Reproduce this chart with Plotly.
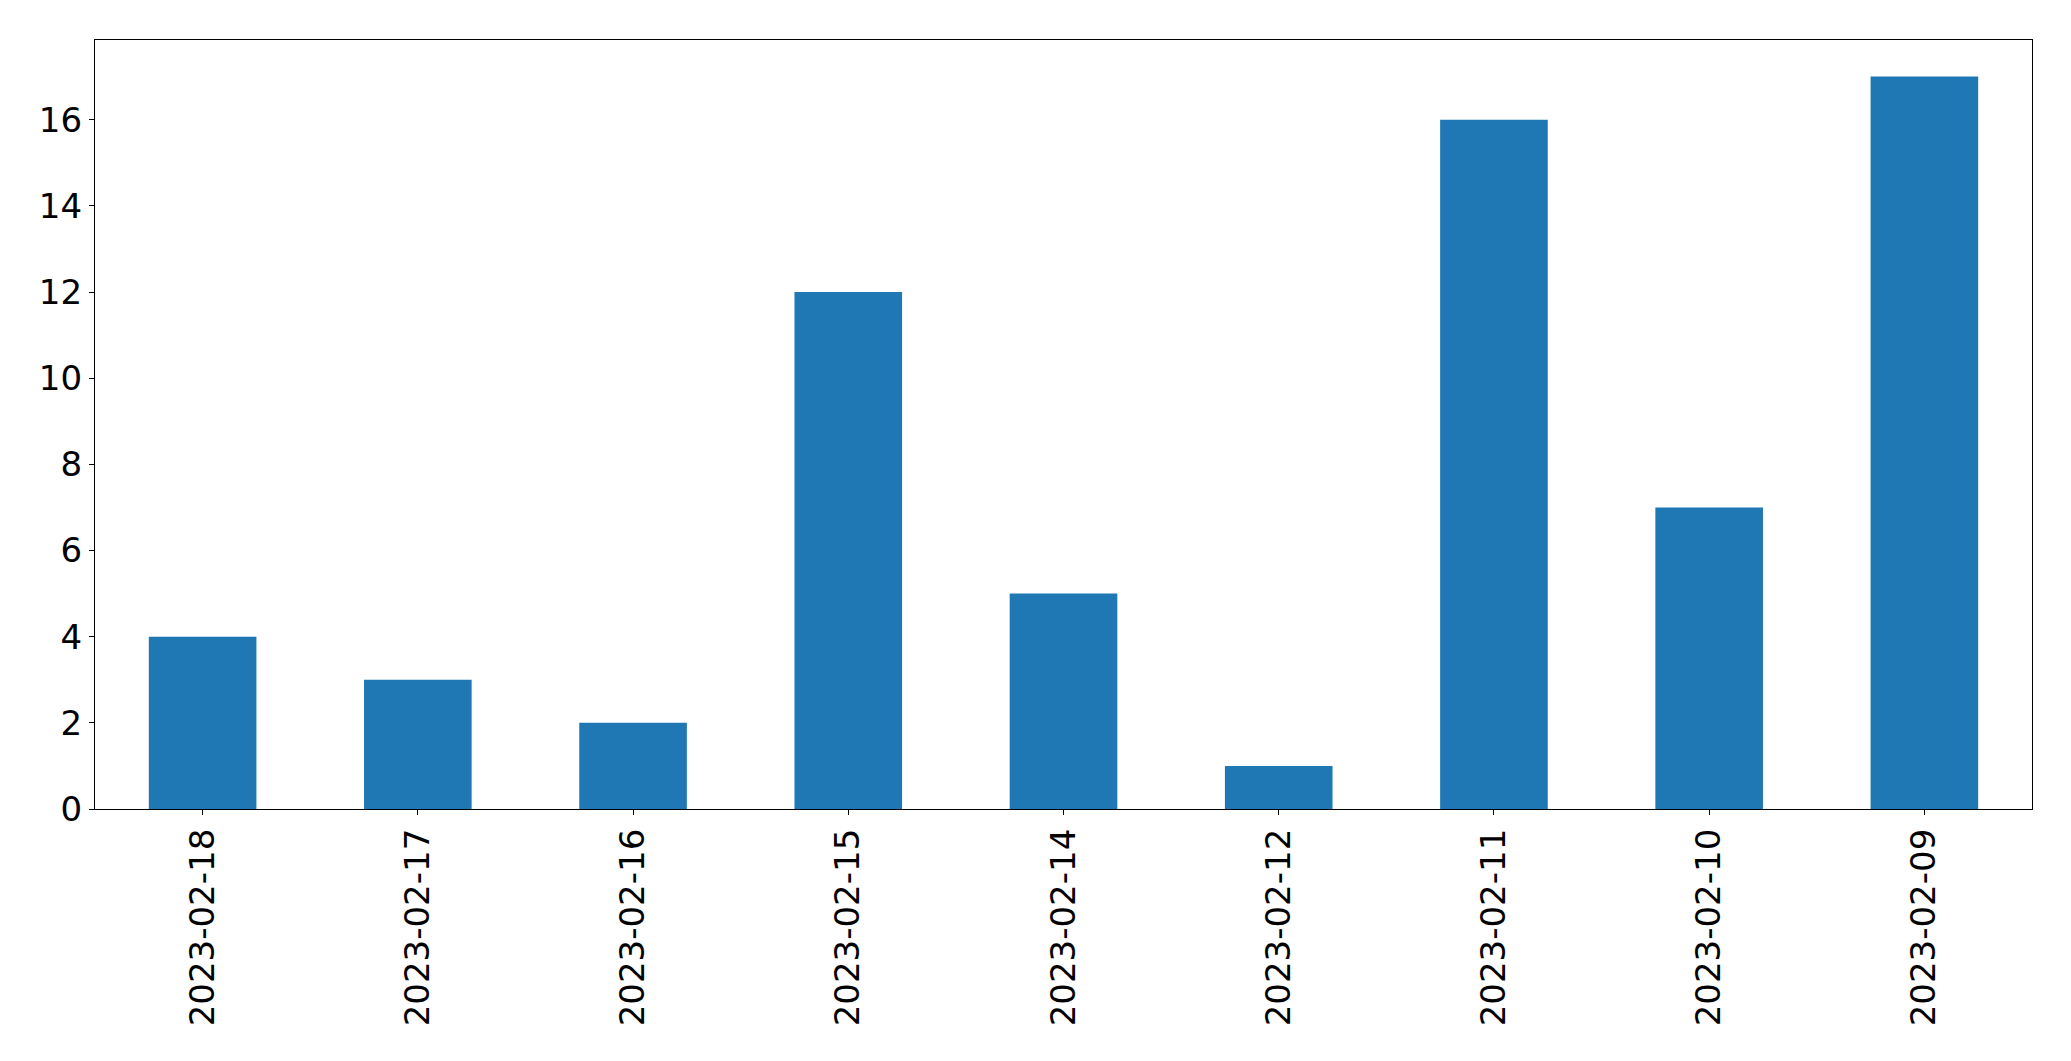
import plotly.graph_objects as go

categories = ["2023-02-18", "2023-02-17", "2023-02-16", "2023-02-15", "2023-02-14",
              "2023-02-12", "2023-02-11", "2023-02-10", "2023-02-09"]
values = [4, 3, 2, 12, 5, 1, 16, 7, 17]
y_ticks = [0, 2, 4, 6, 8, 10, 12, 14, 16]

fig = go.Figure(go.Bar(x=categories, y=values, marker=dict(color="#1f77b4", line=dict(width=0)), width=0.5))

fig.update_layout(
    width=2071, height=1061,
    margin=dict(l=86.5, r=47, t=31.5, b=260, autoexpand=False),
    paper_bgcolor="white", plot_bgcolor="white",
    font=dict(family="DejaVu Sans", size=34, color="black"),
    showlegend=False,
)
fig.update_xaxes(
    type="category", range=[-0.5, 8.5], automargin=False,
    showline=True, linecolor="black", linewidth=1.3, mirror=True,
    ticks="outside", ticklen=5, tickwidth=1.3, tickcolor="black",
    tickangle=-90, showgrid=False, zeroline=False,
    tickfont=dict(size=34),
)
fig.update_yaxes(
    range=[0, 17.85], tickvals=y_ticks, automargin=False,
    showline=True, linecolor="black", linewidth=1.3, mirror=True,
    ticks="outside", ticklen=5, tickwidth=1.3, tickcolor="black",
    showgrid=False, zeroline=False,
    tickfont=dict(size=34),
)
fig.write_html("out.html")
